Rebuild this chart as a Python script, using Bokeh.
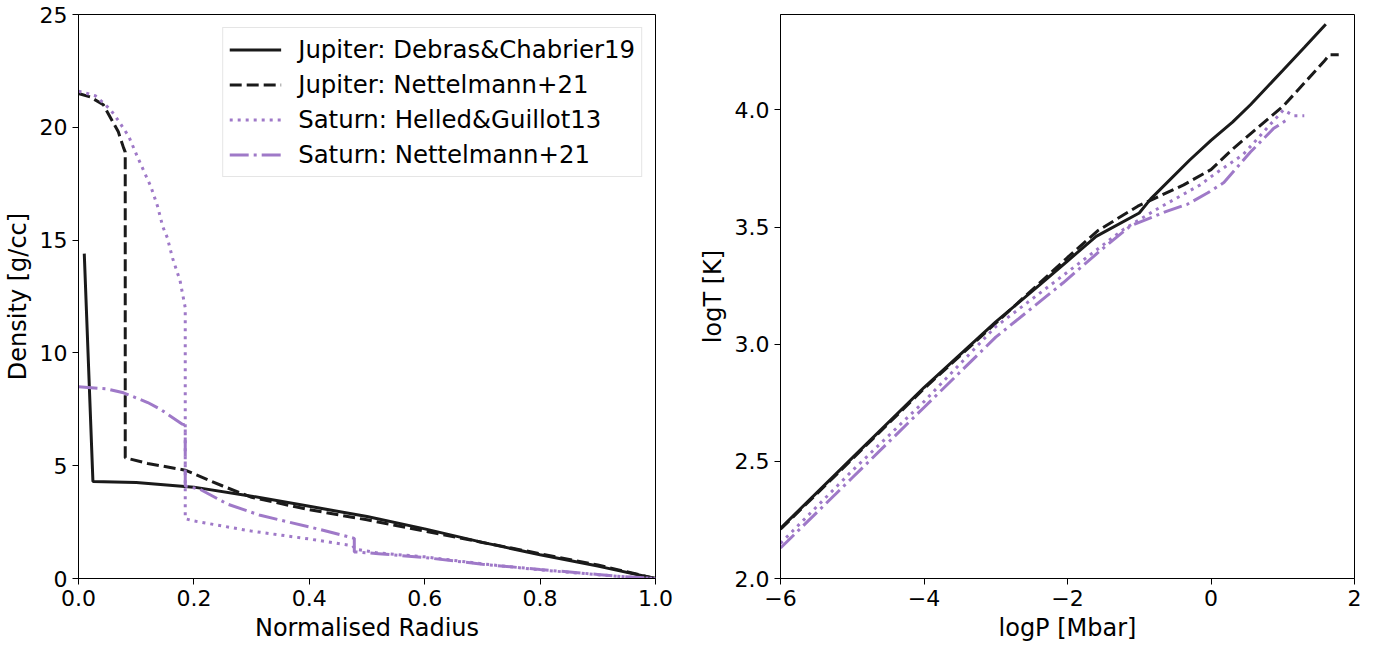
from bokeh.plotting import figure
from bokeh.layouts import row
from bokeh.models import Range1d, FixedTicker, NumeralTickFormatter
from bokeh.embed import file_html
from bokeh.resources import INLINE

# ---------------- data: density profiles (left) ----------------
jup_db_r = [0.01, 0.025, 0.1, 0.2, 0.3, 0.4, 0.5, 0.6, 0.7, 0.8, 0.9, 1.0]
jup_db_rho = [14.4, 4.3, 4.25, 4.05, 3.65, 3.2, 2.75, 2.2, 1.6, 1.05, 0.55, 0.0]

jup_n21_r = [0.0, 0.02, 0.043, 0.069, 0.078, 0.081, 0.081, 0.12, 0.185, 0.25, 0.3, 0.4,
             0.5, 0.6, 0.7, 0.8, 0.9, 1.0]
jup_n21_rho = [21.5, 21.35, 21.0, 19.8, 19.1, 18.9, 5.35, 5.1, 4.8, 4.1, 3.6, 3.05,
               2.6, 2.1, 1.6, 1.1, 0.6, 0.0]

sat_hg_r = [0.0, 0.029, 0.055, 0.069, 0.087, 0.102, 0.116, 0.125, 0.137, 0.146, 0.154,
            0.163, 0.176, 0.185, 0.185, 0.2, 0.3, 0.4, 0.475, 0.48, 0.52, 0.6, 0.7,
            0.8, 0.9, 0.94, 1.0]
sat_hg_rho = [21.6, 21.4, 20.8, 20.3, 19.6, 18.7, 17.9, 17.4, 16.5, 15.6, 15.1,
              14.2, 13.2, 12.0, 2.65, 2.55, 2.1, 1.75, 1.45, 1.3, 1.13, 0.96, 0.65,
              0.38, 0.17, 0.09, 0.0]

sat_n21_r = [0.0, 0.05, 0.078, 0.12, 0.142, 0.18, 0.185, 0.185, 0.211, 0.258, 0.315,
             0.414, 0.478, 0.478, 0.52, 0.6, 0.7, 0.8, 0.9, 0.94, 1.0]
sat_n21_rho = [8.5, 8.4, 8.23, 7.8, 7.5, 6.84, 6.8, 4.1, 3.95, 3.3, 2.8,
               2.2, 1.78, 1.18, 1.1, 0.93, 0.63, 0.4, 0.18, 0.09, 0.0]

# ---------------- data: P-T profiles (right) ----------------
jup_db_logp = [-6, -5, -4, -3, -2.4, -2, -1.6, -1.0, -0.84, -0.3, 0.0, 0.3, 0.55, 1.0,
               1.3, 1.6]
jup_db_logt = [2.214, 2.515, 2.815, 3.095, 3.25, 3.355, 3.46, 3.56, 3.62, 3.785, 3.87,
               3.948, 4.022, 4.168, 4.266, 4.365]

jup_n21_logp = [-6, -5, -4, -3, -2, -1.58, -1.02, -0.52, -0.38, 0.0, 0.31, 1.01, 1.57,
                1.65, 1.78]
jup_n21_logt = [2.21, 2.51, 2.81, 3.09, 3.37, 3.484, 3.589, 3.66, 3.68, 3.745, 3.835,
                4.017, 4.205, 4.235, 4.235]

sat_hg_logp = [-6, -5, -4, -3, -2.14, -1.22, -0.75, -0.15, 0.0, 0.45, 1.01, 1.15, 1.30]
sat_hg_logt = [2.15, 2.46, 2.755, 3.075, 3.275, 3.49, 3.577, 3.68, 3.715, 3.81, 4.0,
               3.975, 3.975]

sat_n21_logp = [-6, -5, -4, -3, -2.06, -1.54, -1.12, -0.61, -0.33, -0.05, 0.18, 0.55,
                0.87, 1.07]
sat_n21_logt = [2.13, 2.43, 2.73, 3.03, 3.262, 3.40, 3.505, 3.568, 3.597, 3.645, 3.69,
                3.82, 3.92, 3.96]

labels = ["Jupiter: Debras&Chabrier19", "Jupiter: Nettelmann+21",
          "Saturn: Helled&Guillot13", "Saturn: Nettelmann+21"]

BLACK = "#1a1a1a"
PURPLE = "#9f79c8"
FONT = "DejaVu Sans"
LW = 3
styles = [
    dict(line_color=BLACK, line_dash="solid"),
    dict(line_color=BLACK, line_dash="12 5"),
    dict(line_color=PURPLE, line_dash="3 5"),
    dict(line_color=PURPLE, line_dash="19 5 3 5"),
]

FRAME_H = 564
BORDER_TOP = 14
BORDER_BOTTOM = 62


def style_axes(p):
    p.xgrid.visible = False
    p.ygrid.visible = False
    p.outline_line_color = "black"
    p.outline_line_width = 1
    p.outline_line_alpha = 1
    for ax in (p.xaxis[0], p.yaxis[0]):
        ax.axis_line_color = "black"
        ax.major_tick_line_color = "black"
        ax.minor_tick_line_color = None
        ax.major_tick_out = 6
        ax.major_tick_in = 0
        ax.major_label_text_font = FONT
        ax.major_label_text_font_size = "22px"
        ax.major_label_text_color = "black"
        ax.axis_label_text_font = FONT
        ax.axis_label_text_font_size = "24px"
        ax.axis_label_text_font_style = "normal"
        ax.axis_label_text_color = "black"
        ax.major_label_standoff = 5
        ax.axis_label_standoff = 5


# ---------------- left figure ----------------
p1 = figure(frame_width=577, frame_height=FRAME_H, output_backend="svg",
            toolbar_location=None,
            x_range=Range1d(0, 1), y_range=Range1d(0, 25),
            min_border_left=76, min_border_right=38, min_border_top=BORDER_TOP,
            min_border_bottom=BORDER_BOTTOM)
style_axes(p1)
p1.xaxis.axis_label = "Normalised Radius"
p1.yaxis.axis_label = "Density [g/cc]"
p1.xaxis.ticker = FixedTicker(ticks=[0, 0.2, 0.4, 0.6, 0.8, 1.0])
p1.xaxis.formatter = NumeralTickFormatter(format="0.0")
p1.yaxis.ticker = FixedTicker(ticks=[0, 5, 10, 15, 20, 25])

left_data = [(jup_db_r, jup_db_rho), (jup_n21_r, jup_n21_rho),
             (sat_hg_r, sat_hg_rho), (sat_n21_r, sat_n21_rho)]
for (xs, ys), st, lab in zip(left_data, styles, labels):
    p1.line(xs, ys, line_width=LW, legend_label=lab, **st)

lg = p1.legend[0]
lg.location = "top_right"
lg.margin = 13
lg.padding = 6
lg.spacing = 4
lg.glyph_width = 52
lg.glyph_height = 31
lg.label_height = 31
lg.label_standoff = 17
lg.label_text_font = FONT
lg.label_text_font_size = "24.4px"
lg.label_text_color = "black"
lg.border_line_color = "#cccccc"
lg.border_line_width = 1
lg.background_fill_alpha = 0.8

# ---------------- right figure ----------------
p2 = figure(frame_width=574, frame_height=FRAME_H, output_backend="svg",
            toolbar_location=None,
            x_range=Range1d(-6, 2), y_range=Range1d(2.0, 4.407),
            min_border_left=87, min_border_right=18, min_border_top=BORDER_TOP,
            min_border_bottom=BORDER_BOTTOM)
style_axes(p2)
p2.xaxis.axis_label = "logP [Mbar]"
p2.yaxis.axis_label = "logT [K]"
p2.xaxis.ticker = FixedTicker(ticks=[-6, -4, -2, 0, 2])
p2.xaxis.major_label_overrides = {-6: "\u22126", -4: "\u22124", -2: "\u22122", 0: "0", 2: "2"}
p2.yaxis.ticker = FixedTicker(ticks=[2.0, 2.5, 3.0, 3.5, 4.0])
p2.yaxis.formatter = NumeralTickFormatter(format="0.0")

right_data = [(jup_db_logp, jup_db_logt), (jup_n21_logp, jup_n21_logt),
              (sat_hg_logp, sat_hg_logt), (sat_n21_logp, sat_n21_logt)]
for (xs, ys), st in zip(right_data, styles):
    p2.line(xs, ys, line_width=LW, **st)

layout = row(p1, p2)
open("out.html", "w").write(file_html(layout, INLINE))
